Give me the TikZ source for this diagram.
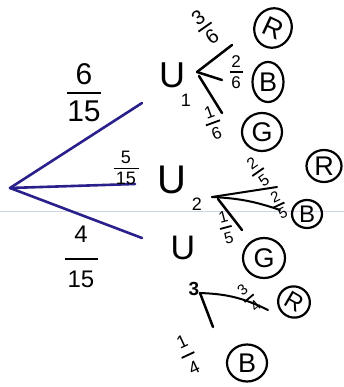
\documentclass[tikz,border=0pt]{standalone}
\usepackage{fontspec}
\setmainfont{Liberation Sans}
\usetikzlibrary{shapes.geometric}
\definecolor{inkblue}{RGB}{42,32,140}
\definecolor{paperline}{RGB}{205,214,232}
\newcommand\hfr[5]{\shortstack{#4\\[#2]\rule{#1}{1.8pt}\\[#3]#5}}
\begin{document}
\begin{tikzpicture}[x=1pt,y=-1pt,line cap=round,line join=round,
  ink/.style={line width=2.5pt,black},
  blueink/.style={line width=2.6pt,draw=inkblue},
  ball/.style={ellipse,draw,line width=2.2pt,inner sep=0pt,font=\fontsize{27}{27}\selectfont},
  fr/.style={inner sep=0pt,font=\fontsize{#1}{#1}\selectfont},
  fr/.default=17,
  ulet/.style={inner sep=0pt,font=\fontsize{36}{36}\selectfont},
  sub/.style={inner sep=0pt,font=\fontsize{18}{18}\selectfont}]
\useasboundingbox (0,0) rectangle (344,387);
\fill[white] (0,0) rectangle (344,387);
\draw[line width=1pt,paperline] (0,211) -- (344,211);
% first stage
\coordinate (root) at (10,188);
\coordinate (e1) at (142,103);
\coordinate (e2) at (135,184);
\coordinate (e3) at (142,238);
\draw[blueink] (root) -- (e1);
\draw[blueink] (root) -- (e2);
\draw[blueink] (root) -- (e3);
\node[fr=30] (f1) at (84,93) {\hfr{34pt}{4pt}{4pt}{6}{15}};
\node[fr=18] (f2) at (126,168) {\hfr{25pt}{1pt}{0pt}{5}{15}};
\node[fr=24] (f3) at (81,257) {\hfr{33pt}{12pt}{8pt}{4}{15}};
% urns
\node[ulet] (U1) at (172,75) {U};
\node[sub] (s1) at (186,100) {1};
\node[ulet,font=\fontsize{40}{40}\selectfont] (U2) at (172,180) {U};
\node[sub] (s2) at (197,204) {2};
\node[ulet,font=\fontsize{34}{34}\selectfont] (U3) at (183,248) {U};
\node[sub,font=\bfseries\fontsize{19}{19}\selectfont] (s3) at (194,289) {3};
% U1 branches
\coordinate (b1) at (197,72);
\coordinate (b1g0) at (199,76);
\coordinate (b1r) at (232,45);
\coordinate (b1b) at (222,80);
\coordinate (b1g) at (222,113);
\draw[ink] (b1) -- (b1r);
\draw[ink] (b1) -- (b1b);
\draw[ink] (b1g0) -- (b1g);
\node[ball,minimum width=37pt,minimum height=40pt,rotate=-25] (R1) at (273,28) {R};
\node[ball,minimum width=31pt,minimum height=40pt] (B1) at (268,82) {B};
\node[ball,minimum width=40pt,minimum height=38pt] (G1) at (262,132) {G};
\node[fr=20,rotate=35] (fa) at (205,27) {\hfr{16pt}{1pt}{1pt}{3}{6}};
\node[fr=17] (fb) at (236,72) {\hfr{13pt}{1pt}{1pt}{2}{6}};
\node[fr=17,rotate=20] (fc) at (213,123) {\hfr{15pt}{1pt}{1pt}{1}{6}};
% U2 branches
\coordinate (b2) at (212,197);
\coordinate (b2g0) at (218,199);
\coordinate (b2r) at (277,187);
\coordinate (b2b) at (280,210);
\coordinate (b2g) at (242,230);
\draw[ink,line width=2pt] (b2) -- (b2r);
\draw[ink,line width=2pt] (b2) to[bend left=8] (b2b);
\draw[ink] (b2g0) -- (b2g);
\node[ball,minimum width=35pt,minimum height=32pt] (R2) at (324,166) {R};
\node[ball,minimum width=30pt,minimum height=28pt,font=\fontsize{24}{24}\selectfont] (B2) at (307,214) {B};
\node[ball,minimum width=42pt,minimum height=40pt] (G2) at (264,258) {G};
\node[fr=16,rotate=35] (fd) at (258,172) {\hfr{14pt}{1pt}{1pt}{2}{5}};
\node[fr=15,rotate=25] (fe) at (279,205) {\hfr{12pt}{0pt}{0pt}{2}{5}};
\node[fr=16,rotate=15] (ff) at (226,228) {\hfr{12pt}{1pt}{2pt}{1}{5}};
% U3 branches
\coordinate (b3) at (200,293);
\coordinate (b3r) at (268,310);
\coordinate (b3b) at (213,327);
\draw[ink,line width=2pt] (b3) to[bend left=12] (b3r);
\draw[ink] (b3) -- (b3b);
\node[ball,minimum width=32pt,minimum height=31pt,rotate=-30,font=\fontsize{24}{24}\selectfont] (R3) at (294,302) {R};
\node[ball,minimum width=40pt,minimum height=37pt] (B3) at (247,363) {B};
\node[fr=15,rotate=40] (fg) at (249,298) {\hfr{12pt}{1pt}{1pt}{3}{4}};
\node[fr=18,rotate=25] (fh) at (188,355) {\hfr{14pt}{4pt}{4pt}{1}{4}};
\end{tikzpicture}
\end{document}
